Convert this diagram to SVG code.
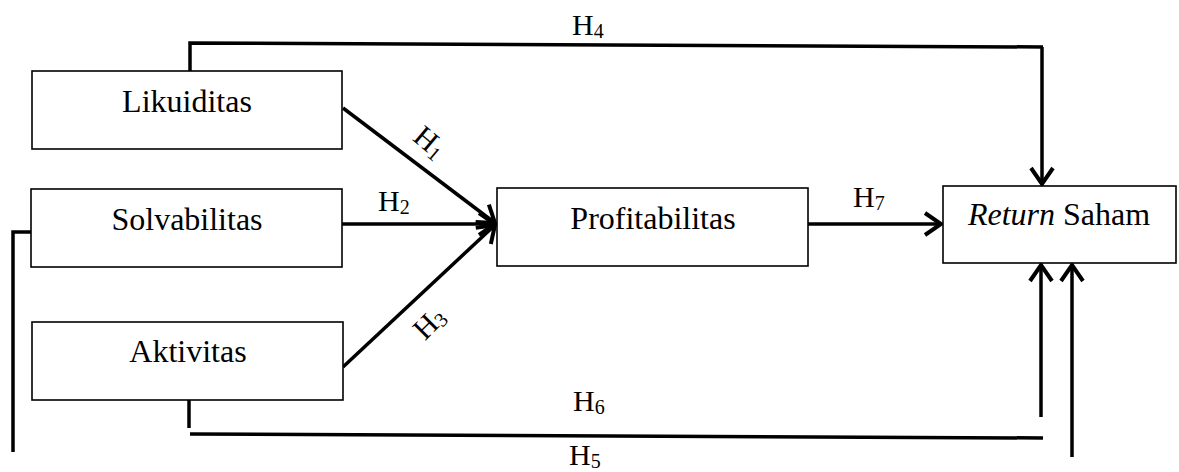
<svg xmlns="http://www.w3.org/2000/svg" width="1179" height="472" viewBox="0 0 1179 472">
<style>
.box{fill:#fff;stroke:#000;stroke-width:1.6}
.lbl{font-family:"Liberation Serif","Times New Roman",serif;font-size:32px;fill:#000;text-anchor:middle}
.h{font-family:"Liberation Serif","Times New Roman",serif;font-size:30px;fill:#000}
.sub{font-size:20px}
.con{fill:none;stroke:#000;stroke-width:3.5;stroke-linejoin:miter}
</style>
<defs>
<marker id="arr" markerUnits="userSpaceOnUse" markerWidth="30" markerHeight="30" viewBox="-20 -15 24 30" refX="0" refY="0" orient="auto">
<path d="M-16,-11 L0,0 L-16,11" fill="none" stroke="#000" stroke-width="4"/>
</marker>
</defs>
<rect width="1179" height="472" fill="#fff"/>
<g id="connectors">
<polyline class="con" points="190,71 190,43 1043,47"/>
<line class="con" x1="1042" y1="47" x2="1042" y2="184" marker-end="url(#arr)"/>
<line class="con" x1="343" y1="108" x2="495" y2="223" marker-end="url(#arr)"/>
<line class="con" x1="342" y1="224" x2="495" y2="224" marker-end="url(#arr)"/>
<line class="con" x1="343" y1="367" x2="495" y2="225" marker-end="url(#arr)"/>
<line class="con" x1="808" y1="224" x2="941" y2="224" marker-end="url(#arr)"/>
<polyline class="con" points="31,232 13,232 13,452"/>
<polyline class="con" points="189,400 189,428"/>
<line class="con" x1="190" y1="434" x2="1043" y2="438"/>
<line class="con" x1="1041" y1="417" x2="1041" y2="265" marker-end="url(#arr)"/>
<line class="con" x1="1072" y1="457" x2="1072" y2="265" marker-end="url(#arr)"/>
</g>
<g id="labels">
<text class="h" x="572" y="35">H<tspan class="sub" dy="3">4</tspan></text>
<text class="h" x="378" y="211">H<tspan class="sub" dy="3">2</tspan></text>
<text class="h" x="853" y="207">H<tspan class="sub" dy="3">7</tspan></text>
<text class="h" x="573" y="411">H<tspan class="sub" dy="3">6</tspan></text>
<text class="h" x="569" y="465">H<tspan class="sub" dy="3">5</tspan></text>
<g transform="translate(430,142) rotate(40)"><text class="h" x="0" y="10" text-anchor="middle">H<tspan class="sub" dy="3">1</tspan></text></g>
<g transform="translate(429,323) rotate(-45)"><text class="h" x="0" y="10" text-anchor="middle">H<tspan class="sub" dy="3">3</tspan></text></g>
</g>
<g id="likuiditas">
<rect class="box" x="32" y="71" width="310" height="78"/>
<text class="lbl" x="187" y="112">Likuiditas</text>
</g>
<g id="solvabilitas">
<rect class="box" x="31" y="189" width="311" height="78"/>
<text class="lbl" x="187" y="230">Solvabilitas</text>
</g>
<g id="aktivitas">
<rect class="box" x="32" y="322" width="311" height="78"/>
<text class="lbl" x="188" y="362">Aktivitas</text>
</g>
<g id="profitabilitas">
<rect class="box" x="497" y="188" width="311" height="78"/>
<text class="lbl" x="653" y="229">Profitabilitas</text>
</g>
<g id="return-saham">
<rect class="box" x="943" y="186" width="233" height="77"/>
<text class="lbl" x="1059" y="225"><tspan font-style="italic">Return</tspan> Saham</text>
</g>
</svg>
